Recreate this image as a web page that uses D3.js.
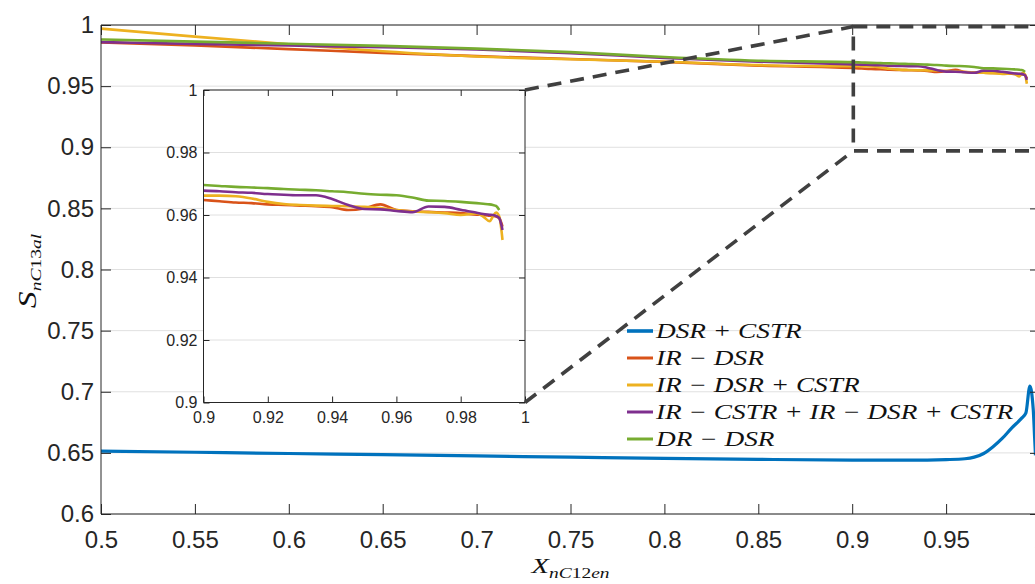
<!DOCTYPE html>
<html><head><meta charset="utf-8">
<script src="https://cdn.jsdelivr.net/npm/d3@7"></script>
<style>body{margin:0;background:#fff}svg{display:block}</style>
</head><body>
<svg id="c" width="1035" height="584"></svg>
<script>
// ---------- DATA ----------
const xs = [0.5,0.55,0.6,0.65,0.7,0.75,0.8,0.85,0.9,0.905,0.91,0.915,0.92,0.925,0.93,0.935,0.94,0.945,0.95,0.955,0.96,0.965,0.97,0.975,0.98,0.985,0.987,0.989,0.99,0.991,0.992,0.993];
const irDsr = [0.9858,0.9832,0.9803,0.9772,0.9745,0.9722,0.9698,0.9668,0.9648,0.9644,0.9640,0.9638,0.9634,0.9632,0.9630,0.9628,0.9625,0.9616,0.9621,0.9634,0.9616,0.9612,0.9610,0.9608,0.9606,0.9601,0.9600,0.9598,0.9597,0.9595,0.9590,0.9563];
const irDsrCstr = [0.9970,0.9905,0.9843,0.9785,0.9742,0.9720,0.9700,0.9672,0.9662,0.9662,0.9660,0.9653,0.9642,0.9635,0.9632,0.9630,0.9629,0.9628,0.9626,0.9622,0.9616,0.9611,0.9609,0.9606,0.9600,0.9605,0.9595,0.9580,0.9595,0.9608,0.9595,0.9520];
const irCstrIrDsrCstr = [0.9860,0.9846,0.9832,0.9818,0.9800,0.9770,0.9730,0.9700,0.9678,0.9676,0.9673,0.9671,0.9667,0.9665,0.9663,0.9663,0.9651,0.9632,0.9619,0.9618,0.9613,0.9609,0.9627,0.9626,0.9617,0.9607,0.9603,0.9601,0.9600,0.9597,0.9590,0.9552];
const drDsr = [0.9882,0.9864,0.9847,0.9829,0.9807,0.9778,0.9738,0.9708,0.9696,0.9693,0.9690,0.9688,0.9686,0.9683,0.9681,0.9679,0.9676,0.9673,0.9668,0.9665,0.9663,0.9656,0.9646,0.9645,0.9642,0.9638,0.9636,0.9634,0.9632,0.9629,0.9616,null];
const dsrCstrX = [0.5,0.55,0.6,0.65,0.7,0.75,0.8,0.85,0.9,0.93,0.95,0.96,0.965,0.97,0.975,0.98,0.985,0.99,0.9925,0.9946,0.9964,0.99715,0.9976];
const dsrCstrY = [0.6515,0.6505,0.6495,0.6485,0.6475,0.6465,0.6455,0.6447,0.6441,0.6440,0.6445,0.6452,0.6465,0.6495,0.6550,0.6620,0.6705,0.6780,0.6827,0.7046,0.6855,0.6620,0.6480];
const seriesNames = ["DSR + CSTR","IR − DSR","IR − DSR + CSTR","IR − CSTR + IR − DSR + CSTR","DR − DSR"];
const seriesColors = ["#0072BD","#D95319","#EDB120","#7E2F8E","#77AC30"];
const mainXTicks = [0.5,0.55,0.6,0.65,0.7,0.75,0.8,0.85,0.9,0.95,1];
const mainYTicks = [0.6,0.65,0.7,0.75,0.8,0.85,0.9,0.95,1];
const insetXTicks = [0.9,0.92,0.94,0.96,0.98,1];
const insetYTicks = [0.9,0.92,0.94,0.96,0.98,1];
const zoomBox = {x0:0.9006, x1:1.0, y0:0.897, y1:0.9987};

// ---------- SETUP ----------
const svg = d3.select("#c");
const axisColor = "#262626";
const tickFont = "'Liberation Sans', Arial, Helvetica, sans-serif";
const mathFont = "'Liberation Serif', 'Times New Roman', serif";
const mathStretch = 1.3;

const xM = d3.scaleLinear().domain([0.5,1]).range([101,1040]);
const yM = d3.scaleLinear().domain([0.6,1]).range([514,25]);
const xI = d3.scaleLinear().domain([0.9,1]).range([203.5,525]);
const yI = d3.scaleLinear().domain([0.9,1]).range([402.5,90]);

const topSeries = [irDsr, irDsrCstr, irCstrIrDsrCstr, drDsr];

function drawGrid(g, xs_, ys_, yT){
  const [x0,x1] = xs_.range();
  g.append("g").selectAll("line").data(yT).join("line")
    .attr("x1",x0).attr("x2",x1).attr("y1",d=>ys_(d)).attr("y2",d=>ys_(d))
    .attr("stroke","#e0e0e0").attr("stroke-width",1);
}
function drawFrame(g, xs_, ys_, xT, yT, opt){
  const [x0,x1] = xs_.range(), [y0,y1] = ys_.range();
  const fmt = d3.format("~g");
  const bottom = d3.axisBottom(xs_).tickValues(xT).tickSize(-opt.tl).tickPadding(opt.pad).tickFormat(fmt);
  const top = d3.axisTop(xs_).tickValues(xT).tickSize(-opt.tl).tickFormat("");
  const left = d3.axisLeft(ys_).tickValues(yT).tickSize(-opt.tl).tickPadding(opt.padY).tickFormat(fmt);
  const right = d3.axisRight(ys_).tickValues(yT).tickSize(-opt.tl).tickFormat("");
  const style = a => {
    a.selectAll("path").attr("stroke",axisColor).attr("stroke-width",1);
    a.selectAll("line").attr("stroke",axisColor).attr("stroke-width",1);
    a.selectAll("text").attr("fill",axisColor).style("font-family",tickFont).style("font-size",opt.fs+"px");
    a.attr("font-family",null).attr("font-size",null);
  };
  g.append("g").attr("transform",`translate(0,${y0})`).call(bottom).call(style).call(a=>a.select(".domain").attr("d",`M${x0},0H${x1}`));
  g.append("g").attr("transform",`translate(0,${y1})`).call(top).call(style).call(a=>a.select(".domain").attr("d",`M${x0},0H${x1}`));
  g.append("g").attr("transform",`translate(${x0},0)`).call(left).call(style).call(a=>a.select(".domain").attr("d",`M0,${y0}V${y1}`));
  g.append("g").attr("transform",`translate(${x1},0)`).call(right).call(style).call(a=>a.select(".domain").attr("d",`M0,${y0}V${y1}`));
}

// ---------- MAIN ----------
const main = svg.append("g");
drawGrid(main, xM, yM, mainYTicks);
svg.append("clipPath").attr("id","cm").append("rect").attr("x",101).attr("y",25).attr("width",939).attr("height",489);
const mainLines = main.append("g").attr("clip-path","url(#cm)");
const blueLine = d3.line().x((d,i)=>xM(dsrCstrX[i])).y(d=>yM(d)).curve(d3.curveMonotoneX);
mainLines.append("path").attr("d",blueLine(dsrCstrY)).attr("fill","none").attr("stroke",seriesColors[0]).attr("stroke-width",3.2).attr("stroke-linejoin","round");
const lineM = d3.line().defined(d=>d!=null).x((d,i)=>xM(xs[i])).y(d=>yM(d)).curve(d3.curveMonotoneX);
topSeries.forEach((s,k)=>{
  mainLines.append("path").attr("d",lineM(s)).attr("fill","none").attr("stroke",seriesColors[k+1]).attr("stroke-width",2.6).attr("stroke-linejoin","round");
});
drawFrame(main, xM, yM, mainXTicks, mainYTicks, {tl:10, pad:17, padY:7, fs:24});

// ---------- ZOOM BOX ----------
const dash = {stroke:"#404040", w:3.6, da:"14,9"};
const bx0 = xM(zoomBox.x0), bx1 = xM(zoomBox.x1), by0 = yM(zoomBox.y1), by1 = yM(zoomBox.y0);
svg.append("rect").attr("x",bx0).attr("y",by0).attr("width",bx1-bx0).attr("height",by1-by0)
  .attr("fill","none").attr("stroke",dash.stroke).attr("stroke-width",dash.w).attr("stroke-dasharray",dash.da);

// ---------- INSET ----------
const inset = svg.append("g");
inset.append("rect").attr("x",xI.range()[0]).attr("y",yI.range()[1]).attr("width",xI.range()[1]-xI.range()[0]).attr("height",yI.range()[0]-yI.range()[1]).attr("fill","#fff");
drawGrid(inset, xI, yI, insetYTicks);
svg.append("clipPath").attr("id","ci").append("rect").attr("x",203.5).attr("y",90).attr("width",321.5).attr("height",312.5);
const insetLines = inset.append("g").attr("clip-path","url(#ci)");
const lineI = d3.line().defined((d,i)=>d!=null && xs[i]>=0.9).x((d,i)=>xI(xs[i])).y(d=>yI(d)).curve(d3.curveMonotoneX);
topSeries.forEach((s,k)=>{
  insetLines.append("path").attr("d",lineI(s)).attr("fill","none").attr("stroke",seriesColors[k+1]).attr("stroke-width",2.6).attr("stroke-linejoin","round");
});
drawFrame(inset, xI, yI, insetXTicks, insetYTicks, {tl:6, pad:9, padY:6, fs:16});

// connectors
[[xI.range()[1], yI.range()[1], bx0, by0],[xI.range()[1], yI.range()[0], bx0, by1]].forEach(c=>{
  svg.append("line").attr("x1",c[0]).attr("y1",c[1]).attr("x2",c[2]).attr("y2",c[3])
    .attr("stroke",dash.stroke).attr("stroke-width",dash.w).attr("stroke-dasharray",dash.da);
});

// ---------- LEGEND ----------
const leg = svg.append("g").attr("transform","translate(627,331)");
seriesNames.forEach((n,i)=>{
  const r = leg.append("g").attr("transform",`translate(0,${i*27})`);
  r.append("line").attr("x1",0).attr("x2",26).attr("y1",0).attr("y2",0).attr("stroke",seriesColors[i]).attr("stroke-width",i===0?3.6:3);
  r.append("text").attr("transform",`translate(29,7) scale(${mathStretch},1)`).text(n)
    .style("font-family",mathFont).style("font-style","italic").style("font-size","21px")
    .attr("fill","#111");
});

// ---------- AXIS LABELS ----------
const xl = svg.append("text").attr("transform",`translate(570.5,573) scale(${mathStretch},1)`).attr("text-anchor","middle")
  .style("font-family",mathFont).style("font-style","italic").attr("fill","#111");
xl.append("tspan").text("X").style("font-size","22px");
const xs1 = xl.append("tspan").attr("dy",5).style("font-size","15px");
xs1.append("tspan").text("nC");
xs1.append("tspan").text("12").style("font-style","normal");
xs1.append("tspan").text("en");

const yl = svg.append("text").attr("transform",`translate(36,271) rotate(-90) scale(${mathStretch},1)`).attr("text-anchor","middle")
  .style("font-family",mathFont).style("font-style","italic").attr("fill","#111");
yl.append("tspan").text("S").style("font-size","26px");
const ys1 = yl.append("tspan").attr("dy",5).style("font-size","15px");
ys1.append("tspan").text("nC");
ys1.append("tspan").text("13").style("font-style","normal");
ys1.append("tspan").text("al");
</script>
</body></html>
